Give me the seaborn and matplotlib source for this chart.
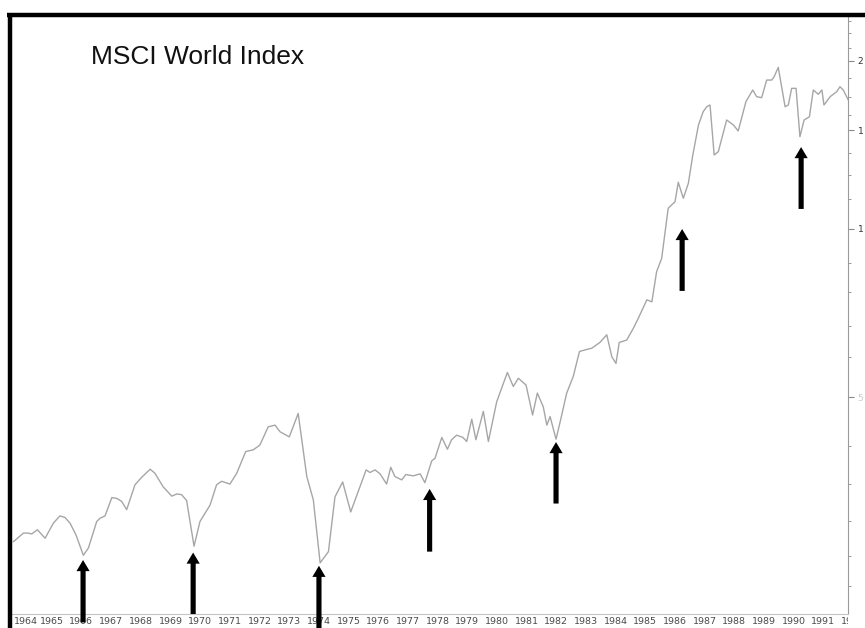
import matplotlib
matplotlib.use("Agg")
import matplotlib.pyplot as plt
from matplotlib.lines import Line2D
from matplotlib.transforms import Bbox, TransformedBbox
from matplotlib.ticker import NullFormatter
import seaborn as sns
import pandas as pd

# ---------------- data ----------------
years = [1964.27, 1964.61, 1964.77, 1964.89, 1965.08, 1965.34, 1965.62, 1965.84, 1966.01, 1966.18,
         1966.38, 1966.63, 1966.80, 1967.08, 1967.19, 1967.36, 1967.59, 1967.75, 1967.92, 1968.09,
         1968.37, 1968.60, 1968.88, 1969.04, 1969.32, 1969.61, 1969.78, 1969.94, 1970.11, 1970.36,
         1970.56, 1970.90, 1971.12, 1971.29, 1971.57, 1971.80, 1972.10, 1972.36, 1972.58, 1972.86,
         1973.09, 1973.26, 1973.57, 1973.87, 1974.16, 1974.38, 1974.61, 1974.89, 1975.11, 1975.37,
         1975.64, 1976.16, 1976.29, 1976.46, 1976.63, 1976.85, 1976.99, 1977.13, 1977.36, 1977.50,
         1977.75, 1977.98, 1978.14, 1978.37, 1978.48, 1978.71, 1978.90, 1979.04, 1979.21, 1979.42,
         1979.55, 1979.72, 1979.86, 1980.11, 1980.28, 1980.56, 1980.92, 1981.12, 1981.29, 1981.55,
         1981.77, 1981.93, 1982.13, 1982.25, 1982.36, 1982.56, 1982.69, 1982.92, 1983.14, 1983.35,
         1983.54, 1983.76, 1984.04, 1984.27, 1984.44, 1984.58, 1984.69, 1984.94, 1985.17, 1985.33,
         1985.62, 1985.79, 1985.95, 1986.12, 1986.34, 1986.57, 1986.68, 1986.85, 1987.02, 1987.17,
         1987.36, 1987.52, 1987.64, 1987.75, 1987.89, 1988.03, 1988.31, 1988.54, 1988.70, 1988.96,
         1989.19, 1989.32, 1989.49, 1989.66, 1989.83, 1989.91, 1990.05, 1990.28, 1990.39, 1990.50,
         1990.65, 1990.78, 1990.92, 1991.10, 1991.23, 1991.40, 1991.52, 1991.59, 1991.80, 1992.02,
         1992.13, 1992.24, 1992.41]

index_values = [27.6, 28.6, 28.6, 28.5, 29.0, 28.0, 29.8, 30.7, 30.5, 29.8,
                28.4, 26.1, 26.9, 30.0, 30.4, 30.7, 33.1, 33.0, 32.6, 31.5,
                34.9, 36.0, 37.2, 36.6, 34.6, 33.3, 33.6, 33.5, 32.7, 27.1,
                30.0, 32.1, 34.9, 35.4, 35.0, 36.6, 40.0, 40.3, 41.1, 44.3,
                44.6, 43.4, 42.5, 46.8, 36.1, 32.8, 25.3, 26.5, 33.2, 35.3,
                31.2, 37.1, 36.7, 37.1, 36.5, 35.0, 37.5, 36.1, 35.6, 36.4,
                36.2, 36.5, 35.2, 38.5, 38.9, 42.4, 40.4, 42.0, 42.8, 42.4,
                41.7, 45.7, 42.0, 47.2, 41.7, 49.1, 55.4, 52.3, 54.1, 52.6,
                46.5, 50.9, 48.1, 44.6, 46.2, 42.1, 45.0, 50.9, 54.5, 60.4,
                60.8, 61.2, 62.7, 64.7, 59.1, 57.5, 62.7, 63.3, 66.5, 69.2,
                74.7, 74.1, 83.9, 88.6, 108.9, 111.9, 121.2, 113.5, 120.7, 135.6,
                153.4, 162.1, 165.4, 166.6, 135.6, 137.5, 156.6, 153.4, 149.7, 168.9,
                177.2, 172.4, 171.7, 184.6, 184.6, 187.2, 194.5, 165.4, 166.6, 178.4,
                178.4, 146.2, 156.6, 158.7, 177.2, 174.1, 177.2, 166.6, 172.4, 176.0,
                179.6, 177.2, 170.0]

year_labels = [str(y) for y in range(1964, 1993)]
y_tick_values = [50, 100, 150, 200]
# only the first digit of each right-hand label is visible in the reference
y_tick_labels = ["5", "1", "1", "2"]
y_minor_values = [23, 26, 30, 35, 41, 59, 67, 77, 87, 113, 125, 137, 160, 172, 186, 211, 224, 235]

# arrows: (year, value at tip, value at tail)
arrow_years = [1966.62, 1970.33, 1974.57, 1978.30, 1982.56, 1986.81, 1990.82]
arrow_tips = [25.6, 26.4, 25.0, 34.3, 41.6, 100.0, 140.1]
arrow_tails = [19.8, 20.5, 19.0, 26.5, 32.3, 77.5, 108.6]

title = "MSCI World Index"

df = pd.DataFrame({"year": years, "value": index_values})

# ---------------- figure ----------------
sns.set_style("white")
plt.rcParams["font.family"] = ["Liberation Sans", "DejaVu Sans"]

W, H = 865, 628
fig = plt.figure(figsize=(W / 100, H / 100), dpi=100)
fig.patch.set_facecolor("white")
ax = fig.add_axes([12 / W, 14 / H, 836 / W, 597 / H])

sns.lineplot(data=df, x="year", y="value", ax=ax, color="#a6a6a6", linewidth=1.0)

ax.set_yscale("log")
ax.set_ylim(20.5, 239.3)
ax.set_xlim(1964.225, 1992.40)
ax.set_xlabel("")
ax.set_ylabel("")

# right axis ticks
ax.yaxis.tick_right()
ax.set_yticks(y_tick_values)
ax.set_yticklabels(y_tick_labels)
ax.set_yticks(y_minor_values, minor=True)
ax.yaxis.set_minor_formatter(NullFormatter())
ax.tick_params(axis="y", which="major", direction="out", length=4, width=0.8,
               color="#8a8a8a", labelsize=6.5, pad=3, labelcolor="#333333")
ax.tick_params(axis="y", which="minor", direction="out", length=2.5, width=0.7,
               color="#9a9a9a")
for lab, val in zip(ax.get_yticklabels(), y_tick_values):
    lab.set_family(["Liberation Sans Narrow", "DejaVu Sans"])
    if val == 50:
        lab.set_color("#cccccc")

# bottom year strip: separators as ticks, labels as clipped texts
ax.set_xticks(list(range(1965, 1993)))
ax.set_xticklabels([])
ax.tick_params(axis="x", which="major", direction="out", length=10.5, width=0.8,
               color="#c4c4c4")
ax.tick_params(axis="x", which="minor", length=0)

clip = TransformedBbox(Bbox.from_extents(0, 0, 848 / W, 1), fig.transFigure)
for lab in year_labels:
    yr = int(lab)
    xpos = max(yr + 0.16, 1964.29)
    t = ax.text(xpos, -0.0125, lab, transform=ax.get_xaxis_transform(),
                ha="left", va="center", fontsize=6.8, color="#4a4a4a",
                family=["Liberation Sans Narrow", "DejaVu Sans"], clip_on=True)
    t.set_clip_box(clip)

for side in ["left", "top"]:
    ax.spines[side].set_visible(False)
ax.spines["right"].set_color("#9a9a9a")
ax.spines["right"].set_linewidth(0.8)
ax.spines["bottom"].set_color("#c4c4c4")
ax.spines["bottom"].set_linewidth(0.8)
ax.grid(False)

# arrows
for yr, tip, tail in zip(arrow_years, arrow_tips, arrow_tails):
    ax.annotate("", xy=(yr, tip), xytext=(yr, tail), annotation_clip=False,
                arrowprops=dict(arrowstyle="simple,head_length=0.8,head_width=0.95,tail_width=0.37",
                                fc="black", ec="none", mutation_scale=10,
                                shrinkA=0, shrinkB=0, clip_on=False))

# title
fig.text(91 / W, 1 - 64 / H, title, fontsize=19, color="#111111",
         ha="left", va="baseline", family=["Liberation Sans", "DejaVu Sans"])

# thick outer frame (top and left)
fig.add_artist(Line2D([7.5 / W, 1], [1 - 14.8 / H, 1 - 14.8 / H], transform=fig.transFigure,
                      color="black", lw=3.2, solid_capstyle="butt"))
fig.add_artist(Line2D([9.7 / W, 9.7 / W], [0, 1 - 12.5 / H], transform=fig.transFigure,
                      color="black", lw=3.2, solid_capstyle="butt"))

fig.savefig("out.png", dpi=100)
